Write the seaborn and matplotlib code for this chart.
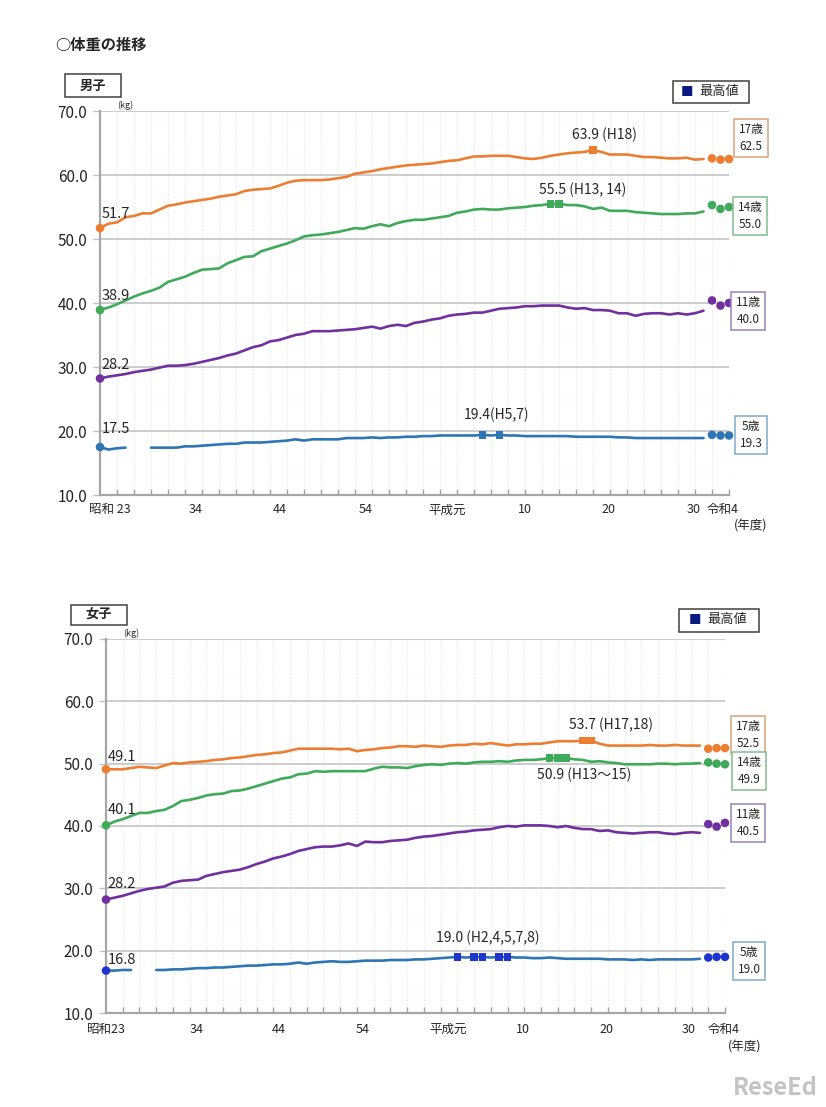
import numpy as np
import pandas as pd
import matplotlib
matplotlib.use("Agg")
import matplotlib.pyplot as plt
from matplotlib.patches import Rectangle
import seaborn as sns

# 年度 (昭和23 = 1948 ... 令和元 = 2019) と 令和2-4
years = list(range(1948, 2020))
recent_years = [2020, 2021, 2022]
ages = ["17歳", "14歳", "11歳", "5歳"]

# ---- 男子 ----
boys_17 = [51.7, 52.4,
           52.6, 53.4, 53.6, 54.0, 54.0, 54.6, 55.2, 55.4, 55.7, 55.9,
           56.1, 56.3, 56.6, 56.8, 57.0, 57.5, 57.7, 57.8, 57.9, 58.3,
           58.8, 59.1, 59.2, 59.2, 59.2, 59.3, 59.5, 59.7, 60.2, 60.4,
           60.6, 60.9, 61.1, 61.3, 61.5, 61.6, 61.7, 61.8, 62.0, 62.2,
           62.3, 62.6, 62.9, 62.9, 63.0, 63.0, 63.0, 62.8, 62.6, 62.5,
           62.7, 63.0, 63.2, 63.4, 63.5, 63.6, 63.9, 63.6, 63.2, 63.2,
           63.2, 63.0, 62.8, 62.8, 62.7, 62.6, 62.6, 62.7, 62.4, 62.5]
boys_14 = [38.9, 39.3,
           39.8, 40.4, 41.0, 41.5, 41.9, 42.4, 43.3, 43.7, 44.1, 44.7,
           45.2, 45.3, 45.4, 46.2, 46.7, 47.2, 47.3, 48.1, 48.5, 48.9,
           49.3, 49.8, 50.4, 50.6, 50.7, 50.9, 51.1, 51.4, 51.7, 51.6,
           52.0, 52.3, 52.0, 52.5, 52.8, 53.0, 53.0, 53.2, 53.4, 53.6,
           54.1, 54.3, 54.6, 54.7, 54.6, 54.6, 54.8, 54.9, 55.0, 55.2,
           55.3, 55.5, 55.5, 55.3, 55.3, 55.1, 54.7, 54.9, 54.4, 54.4,
           54.4, 54.2, 54.1, 54.0, 53.9, 53.9, 53.9, 54.0, 54.0, 54.3]
boys_11 = [28.2, 28.5,
           28.7, 28.9, 29.2, 29.4, 29.6, 29.9, 30.2, 30.2, 30.3, 30.5,
           30.8, 31.1, 31.4, 31.8, 32.1, 32.6, 33.1, 33.4, 34.0, 34.2,
           34.6, 35.0, 35.2, 35.6, 35.6, 35.6, 35.7, 35.8, 35.9, 36.1,
           36.3, 36.0, 36.4, 36.6, 36.4, 36.9, 37.1, 37.4, 37.6, 38.0,
           38.2, 38.3, 38.5, 38.5, 38.8, 39.1, 39.2, 39.3, 39.5, 39.5,
           39.6, 39.6, 39.6, 39.3, 39.1, 39.2, 38.9, 38.9, 38.8, 38.4,
           38.4, 38.0, 38.3, 38.4, 38.4, 38.2, 38.4, 38.2, 38.4, 38.8]
boys_5 = [17.5, 17.1,
          17.3, 17.4, np.nan, np.nan, 17.4, 17.4, 17.4, 17.4, 17.6, 17.6,
          17.7, 17.8, 17.9, 18.0, 18.0, 18.2, 18.2, 18.2, 18.3, 18.4,
          18.5, 18.7, 18.5, 18.7, 18.7, 18.7, 18.7, 18.9, 18.9, 18.9,
          19.0, 18.9, 19.0, 19.0, 19.1, 19.1, 19.2, 19.2, 19.3, 19.3,
          19.3, 19.3, 19.3, 19.4, 19.3, 19.4, 19.3, 19.3, 19.2, 19.2,
          19.2, 19.2, 19.2, 19.2, 19.1, 19.1, 19.1, 19.1, 19.1, 19.0,
          19.0, 18.9, 18.9, 18.9, 18.9, 18.9, 18.9, 18.9, 18.9, 18.9]
boys_recent_17 = [62.6, 62.4, 62.5]
boys_recent_14 = [55.3, 54.7, 55.0]
boys_recent_11 = [40.4, 39.6, 40.0]
boys_recent_5 = [19.4, 19.3, 19.3]

# ---- 女子 ----
girls_17 = [49.1, 49.1,
            49.1, 49.3, 49.5, 49.4, 49.3, 49.7, 50.1, 50.0, 50.2, 50.3,
            50.4, 50.6, 50.7, 50.9, 51.0, 51.2, 51.4, 51.5, 51.7, 51.8,
            52.1, 52.4, 52.4, 52.4, 52.4, 52.4, 52.3, 52.4, 52.0, 52.2,
            52.3, 52.5, 52.6, 52.8, 52.8, 52.7, 52.9, 52.8, 52.7, 52.9,
            53.0, 53.0, 53.2, 53.1, 53.3, 53.1, 52.9, 53.1, 53.1, 53.2,
            53.2, 53.4, 53.6, 53.6, 53.6, 53.7, 53.7, 53.2, 52.9, 52.9,
            52.9, 52.9, 52.9, 53.0, 52.9, 52.9, 53.0, 52.9, 52.9, 52.9]
girls_14 = [40.1, 40.7,
            41.1, 41.6, 42.1, 42.1, 42.4, 42.6, 43.2, 44.0, 44.2, 44.5,
            44.9, 45.1, 45.2, 45.6, 45.7, 46.0, 46.4, 46.8, 47.2, 47.6,
            47.8, 48.3, 48.4, 48.8, 48.7, 48.8, 48.8, 48.8, 48.8, 48.8,
            49.2, 49.5, 49.4, 49.4, 49.3, 49.6, 49.8, 49.9, 49.8, 50.0,
            50.1, 50.0, 50.2, 50.3, 50.3, 50.4, 50.3, 50.5, 50.6, 50.6,
            50.7, 50.9, 50.9, 50.9, 50.7, 50.6, 50.3, 50.4, 50.2, 50.1,
            49.9, 49.9, 49.9, 49.9, 50.0, 50.0, 49.9, 50.0, 50.0, 50.1]
girls_11 = [28.2, 28.5,
            28.8, 29.2, 29.6, 29.9, 30.1, 30.3, 30.9, 31.2, 31.3, 31.4,
            32.0, 32.3, 32.6, 32.8, 33.0, 33.4, 33.9, 34.3, 34.8, 35.1,
            35.5, 36.0, 36.3, 36.6, 36.7, 36.7, 36.9, 37.2, 36.8, 37.5,
            37.4, 37.4, 37.6, 37.7, 37.8, 38.1, 38.3, 38.4, 38.6, 38.8,
            39.0, 39.1, 39.3, 39.4, 39.5, 39.8, 40.0, 39.9, 40.1, 40.1,
            40.1, 40.0, 39.8, 40.0, 39.7, 39.5, 39.5, 39.2, 39.3, 39.0,
            38.9, 38.8, 38.9, 39.0, 39.0, 38.8, 38.7, 38.9, 39.0, 38.9]
girls_5 = [16.8, 16.8,
           16.9, 16.9, np.nan, np.nan, 16.9, 16.9, 17.0, 17.0, 17.1, 17.2,
           17.2, 17.3, 17.3, 17.4, 17.5, 17.6, 17.6, 17.7, 17.8, 17.8,
           17.9, 18.1, 17.9, 18.1, 18.2, 18.3, 18.2, 18.2, 18.3, 18.4,
           18.4, 18.4, 18.5, 18.5, 18.5, 18.6, 18.6, 18.7, 18.8, 18.9,
           19.0, 18.9, 19.0, 19.0, 18.9, 19.0, 19.0, 18.9, 18.9, 18.8,
           18.8, 18.9, 18.8, 18.7, 18.7, 18.7, 18.7, 18.7, 18.6, 18.6,
           18.6, 18.5, 18.6, 18.5, 18.6, 18.6, 18.6, 18.6, 18.6, 18.7]
girls_recent_17 = [52.4, 52.5, 52.5]
girls_recent_14 = [50.2, 50.0, 49.9]
girls_recent_11 = [40.3, 39.9, 40.5]
girls_recent_5 = [18.9, 19.0, 19.0]

# 最高値の年度
boys_peak = {"17歳": [2006], "14歳": [2001, 2002], "5歳": [1993, 1995]}
girls_peak = {"17歳": [2005, 2006], "14歳": [2001, 2002, 2003],
              "5歳": [1990, 1992, 1993, 1995, 1996]}

colors = {"17歳": "#ED7D31", "14歳": "#3FAA5A", "11歳": "#7030A0", "5歳": "#2E75B6"}
box_edges = {"17歳": "#D9A47A", "14歳": "#7FBF8C", "11歳": "#9C80BC", "5歳": "#7FA8CC"}


def make_frames(series, recent):
    rows, rec = [], []
    for age in ages:
        vals = np.array(series[age], dtype=float)
        seg = np.cumsum(np.isnan(vals))
        for y, v, s in zip(years, vals, seg):
            if not np.isnan(v):
                rows.append({"year": y, "weight": v, "age": age, "seg": f"{age}-{s}"})
        for y, v in zip(recent_years, recent[age]):
            rec.append({"year": y, "weight": v, "age": age})
    return pd.DataFrame(rows), pd.DataFrame(rec)


sns.set_theme(style="white")
plt.rcParams['font.family'] = ['Noto Sans CJK JP', 'DejaVu Sans']

W, H = 826, 1107
fig = plt.figure(figsize=(W / 100, H / 100), dpi=100)


def fx(px):
    return px / W


def fy(py):
    return 1 - py / H


def draw_panel(ax, series, recent, peaks, colors_ov):
    df, rec = make_frames(series, recent)
    pal = dict(colors)
    pal.update(colors_ov.get("line", {}))
    dot_pal = dict(colors)
    dot_pal.update(colors_ov.get("dot", {}))

    sns.lineplot(data=df, x="year", y="weight", hue="age", units="seg",
                 estimator=None, palette=pal, lw=1.9, legend=False, ax=ax)
    first = df[df.year == years[0]]
    sns.scatterplot(data=first, x="year", y="weight", hue="age", palette=dot_pal,
                    s=38, edgecolor="none", legend=False, ax=ax, clip_on=False, zorder=5)
    sns.scatterplot(data=rec, x="year", y="weight", hue="age", palette=dot_pal,
                    s=38, edgecolor="none", legend=False, ax=ax, clip_on=False, zorder=5)
    pk = df[[r.year in peaks.get(r.age, []) for r in df.itertuples()]]
    sns.scatterplot(data=pk, x="year", y="weight", hue="age", palette=dot_pal,
                    marker="s", s=30, edgecolor="none", legend=False, ax=ax, zorder=6)

    ax.set_xlim(1948, 2022)
    ax.set_ylim(10, 70)
    ax.set_xlabel("")
    ax.set_ylabel("")
    ax.set_yticks(np.arange(10, 71, 10))
    ax.set_yticklabels([f"{v:.1f}" for v in np.arange(10, 71, 10)], fontsize=11)
    ax.set_xticks(np.arange(1950, 2023, 2))
    ax.set_xticklabels([])
    ax.tick_params(axis="x", direction="in", length=4, width=1, color="#a0a0a0", bottom=True)
    ax.tick_params(axis="y", direction="out", length=5, width=1, color="#c0c0c0", pad=4, left=True)
    ax.yaxis.grid(True, color="#c8c8c8", lw=1.3)
    ax.xaxis.grid(True, color="#ececec", lw=0.8, ls=(0, (2, 1.5)))
    ax.set_axisbelow(True)
    for side in ["top", "right"]:
        ax.spines[side].set_visible(False)
    for side in ["left", "bottom"]:
        ax.spines[side].set_color("#a6a6a6")
        ax.spines[side].set_linewidth(1.6)
    ax.text(0.028, 1.002, "(kg)", transform=ax.transAxes, fontsize=6.5, va="bottom", ha="left")
    return df


# ---- 男子 ----
ax_b = fig.add_axes([fx(100), fy(495), (729 - 100) / W, (495 - 111) / H])
boys = {"17歳": boys_17, "14歳": boys_14, "11歳": boys_11, "5歳": boys_5}
boys_rec = {"17歳": boys_recent_17, "14歳": boys_recent_14, "11歳": boys_recent_11, "5歳": boys_recent_5}
draw_panel(ax_b, boys, boys_rec, boys_peak, {})

for age, dy in zip(ages, [10, 10, 10, 13]):
    ax_b.annotate(f"{boys[age][0]:.1f}", (1948, boys[age][0]), xytext=(1, dy),
                  textcoords="offset points", ha="left", va="center", fontsize=10.5)
ax_b.annotate("63.9 (H18)", (2006, 63.9), xytext=(8, 11), textcoords="offset points",
              ha="center", va="center", fontsize=10)
ax_b.annotate("55.5 (H13, 14)", (2001.5, 55.5), xytext=(20, 10), textcoords="offset points",
              ha="center", va="center", fontsize=10)
ax_b.annotate("19.4(H5,7)", (1994, 19.4), xytext=(4, 14), textcoords="offset points",
              ha="center", va="center", fontsize=10)

xlab_b = [(1949.2, "昭和 23"), (1959.2, "34"), (1969.2, "44"), (1979.2, "54"),
          (1988.8, "平成元"), (1998, "10"), (2007.8, "20"), (2017.8, "30"), (2021.3, "令和4")]
for x, t in xlab_b:
    ax_b.text(x, -0.039, t, transform=ax_b.get_xaxis_transform(), ha="center", va="center", fontsize=9)
ax_b.text(2024.6, -0.081, "(年度)", transform=ax_b.get_xaxis_transform(), ha="center", va="center", fontsize=9)

for age, (cx, cy) in zip(ages, [(751, 138), (750, 216), (748, 311), (751, 435)]):
    fig.text(fx(cx), fy(cy), f"{age}\n{boys_rec[age][-1]:.1f}", ha="center", va="center",
             fontsize=8.5, linespacing=1.45,
             bbox=dict(boxstyle="square,pad=0.35", fc="white", ec=box_edges[age], lw=1.1))

# ---- 女子 ----
ax_g = fig.add_axes([fx(106), fy(1013), (725 - 106) / W, (1013 - 639) / H])
girls = {"17歳": girls_17, "14歳": girls_14, "11歳": girls_11, "5歳": girls_5}
girls_rec = {"17歳": girls_recent_17, "14歳": girls_recent_14, "11歳": girls_recent_11, "5歳": girls_recent_5}
draw_panel(ax_g, girls, girls_rec, girls_peak, {"dot": {"5歳": "#1F35D0"}})

for age, dy in zip(ages, [9, 11, 11, 8]):
    ax_g.annotate(f"{girls[age][0]:.1f}", (1948, girls[age][0]), xytext=(1, dy),
                  textcoords="offset points", ha="left", va="center", fontsize=10.5)
ax_g.annotate("53.7 (H17,18)", (2005.5, 53.7), xytext=(17, 11), textcoords="offset points",
              ha="center", va="center", fontsize=10)
ax_g.annotate("50.9 (H13\u301c15)", (2002, 50.9), xytext=(19, -12), textcoords="offset points",
              ha="center", va="center", fontsize=10)
ax_g.annotate("19.0 (H2,4,5,7,8)", (1993, 19.0), xytext=(4, 14), textcoords="offset points",
              ha="center", va="center", fontsize=10)

xlab_g = [(1948.0, "昭和23"), (1958.8, "34"), (1968.7, "44"), (1978.7, "54"),
          (1988.9, "平成元"), (1997.9, "10"), (2007.8, "20"), (2017.7, "30"), (2021.8, "令和4")]
for x, t in xlab_g:
    ax_g.text(x, -0.043, t, transform=ax_g.get_xaxis_transform(), ha="center", va="center", fontsize=9)
ax_g.text(2024.4, -0.091, "(年度)", transform=ax_g.get_xaxis_transform(), ha="center", va="center", fontsize=9)

for age, (cx, cy) in zip(ages, [(748, 735), (749, 771), (748, 823), (749, 961)]):
    fig.text(fx(cx), fy(cy), f"{age}\n{girls_rec[age][-1]:.1f}", ha="center", va="center",
             fontsize=8.5, linespacing=1.45,
             bbox=dict(boxstyle="square,pad=0.35", fc="white", ec=box_edges[age], lw=1.1))

# ---- タイトル・枠 ----
fig.text(fx(55), fy(45), "○体重の推移", fontsize=11, fontweight="bold", va="center", ha="left")


def frame(x0, y0, x1, y1):
    fig.patches.append(Rectangle((fx(x0), fy(y1)), (x1 - x0) / W, (y1 - y0) / H,
                                 transform=fig.transFigure, fill=False, ec="#404040", lw=1.1))


frame(65, 74, 121, 97)
fig.text(fx(93), fy(86), "男子", ha="center", va="center", fontsize=9.5, fontweight="bold")
frame(71, 605, 127, 625)
fig.text(fx(99), fy(615), "女子", ha="center", va="center", fontsize=9.5, fontweight="bold")

frame(673, 81, 749, 103)
fig.text(fx(687), fy(92), "■", ha="center", va="center", fontsize=9, color="#0A1A80")
fig.text(fx(719), fy(92), "最高値", ha="center", va="center", fontsize=9.5)
frame(679, 609, 759, 632)
fig.text(fx(695), fy(620), "■", ha="center", va="center", fontsize=9, color="#0A1A80")
fig.text(fx(727), fy(620), "最高値", ha="center", va="center", fontsize=9.5)

fig.text(fx(733), fy(1088), "ReseEd", ha="left", va="center", fontsize=17,
         fontweight="bold", color="#c4c4c4")

fig.savefig("out.png", dpi=100)
